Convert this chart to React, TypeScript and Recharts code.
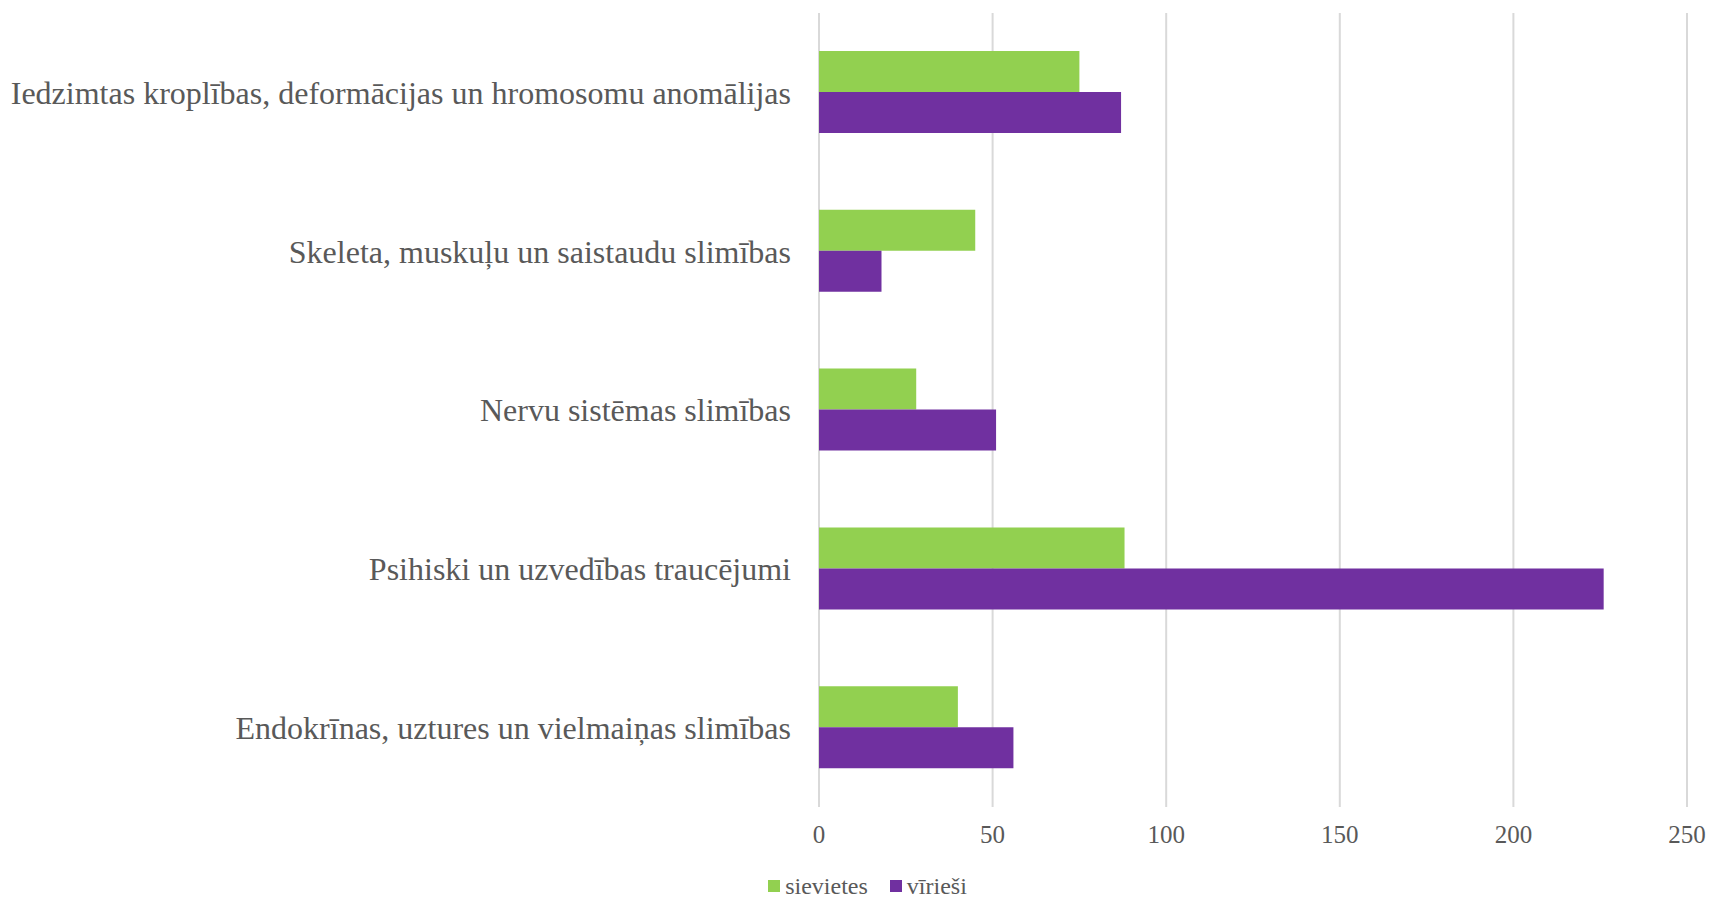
import { Bar, BarChart, CartesianGrid, Legend, XAxis, YAxis } from 'recharts'

const categories = [
  'Iedzimtas kroplības, deformācijas un hromosomu anomālijas',
  'Skeleta, muskuļu un saistaudu slimības',
  'Nervu sistēmas slimības',
  'Psihiski un uzvedības traucējumi',
  'Endokrīnas, uztures un vielmaiņas slimības',
]
const women = [75, 45, 28, 88, 40]
const men = [87, 18, 51, 226, 56]
const xTicks = [0, 50, 100, 150, 200, 250]

const GREEN = '#92d050'
const PURPLE = '#7030a0'
const TEXT = '#595959'
const FONT = "'Liberation Serif', 'Times New Roman', serif"

const data = categories.map((name, i) => ({
  name,
  sievietes: women[i],
  virieši: men[i],
}))

function LegendBox() {
  const items = [
    { label: 'sievietes', color: GREEN },
    { label: 'vīrieši', color: PURPLE },
  ]
  return (
    <div
      style={{
        display: 'flex',
        justifyContent: 'center',
        gap: 22,
        paddingTop: 17,
        paddingLeft: 48,
        fontFamily: FONT,
        fontSize: 24,
        color: TEXT,
        height: 40,
        boxSizing: 'border-box',
        lineHeight: '26px',
      }}
    >
      {items.map((it) => (
        <div key={it.label} style={{ display: 'flex', alignItems: 'center' }}>
          <span
            style={{
              width: 12,
              height: 12,
              background: it.color,
              display: 'inline-block',
              marginRight: 5,
            }}
          />
          <span style={{ fontFamily: FONT }}>{it.label}</span>
        </div>
      ))}
    </div>
  )
}

export default function App() {
  return (
    <div
      style={{
        position: 'absolute',
        left: 0,
        top: 0,
        background: '#fff',
        fontFamily: FONT,
      }}
    >
      <BarChart
        width={1711}
        height={897}
        data={data}
        layout="vertical"
        barSize={41}
        barGap={0}
        margin={{ top: 13, right: 24, bottom: 0, left: 0 }}
        style={{ fontFamily: FONT }}
      >
        <CartesianGrid horizontal={false} stroke="#d9d9d9" strokeWidth={2} />
        <XAxis
          type="number"
          domain={[0, 250]}
          ticks={xTicks}
          axisLine={false}
          tickLine={false}
          tickSize={0}
          tickMargin={18}
          height={50}
          tick={{ fontSize: 25, fill: TEXT, fontFamily: FONT }}
        />
        <YAxis
          type="category"
          dataKey="name"
          width={819}
          axisLine={false}
          tickLine={false}
          tickSize={0}
          tickMargin={28}
          tick={{ fontSize: 32, fill: TEXT, fontFamily: FONT }}
        />
        <Legend verticalAlign="bottom" content={() => <LegendBox />} />
        <Bar dataKey="sievietes" fill={GREEN} isAnimationActive={false} />
        <Bar dataKey="virieši" fill={PURPLE} isAnimationActive={false} />
      </BarChart>
    </div>
  )
}
